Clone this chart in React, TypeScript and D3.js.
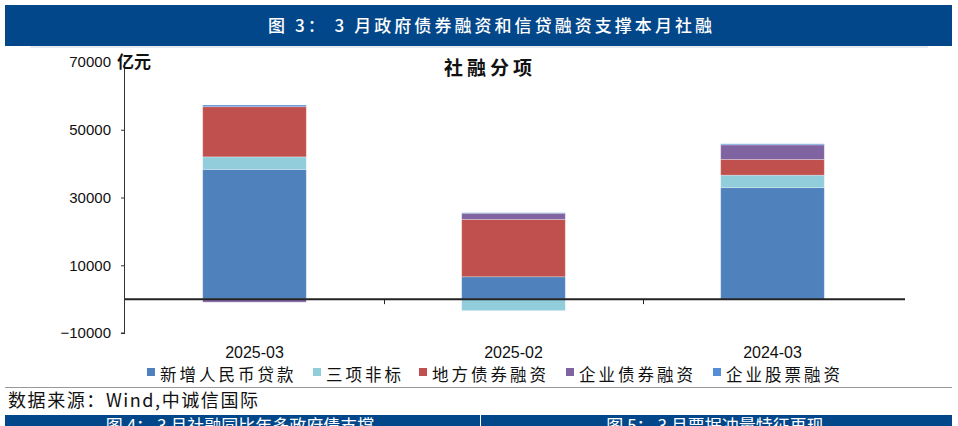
import React, { useRef, useEffect } from "react";
import * as d3 from "d3";

const categories = ["2025-03", "2025-02", "2024-03"];
const seriesNames = ["新增人民币贷款", "三项非标", "地方债券融资", "企业债券融资", "企业股票融资"];
const loans = [38300, 6600, 32900];
const nonStandard = [3700, -3400, 3700];
const localBonds = [14800, 16950, 4650];
const corpBonds = [-900, 1800, 4300];
const equity = [500, 150, 300];
const yTicks = [70000, 50000, 30000, 10000, -10000];
const colors = ["#4F81BD", "#92CDDC", "#C0504D", "#8064A2", "#558ED5"];

const W = 958;
const H = 426;
const CJK = "'Noto Sans CJK SC', sans-serif";

export default function App() {
  const svgRef = useRef<SVGSVGElement>(null);

  useEffect(() => {
    const svg = d3.select(svgRef.current);
    svg.selectAll("*").remove();

    const x0 = 125, x1 = 902, yTop = 62, yBot = 333;

    // header band
    svg.append("rect").attr("x", 5).attr("y", 5).attr("width", 947).attr("height", 41).attr("fill", "#02478A");
    svg.append("text")
      .attr("x", 490).attr("y", 32).attr("text-anchor", "middle")
      .attr("font-family", CJK).attr("font-size", 17).attr("font-weight", 500)
      .attr("textLength", 444).attr("fill", "#fff")
      .text("图 3： 3 月政府债券融资和信贷融资支撑本月社融");
    svg.append("line").attr("x1", 30).attr("x2", 928).attr("y1", 47).attr("y2", 47)
      .attr("stroke", "#cfd6e0").attr("stroke-width", 1);

    // chart title
    svg.append("text")
      .attr("x", 490).attr("y", 75).attr("text-anchor", "middle")
      .attr("font-family", CJK).attr("font-size", 19).attr("font-weight", 700)
      .attr("letter-spacing", 4).attr("fill", "#111").text("社融分项");

    const x = d3.scaleBand<string>().domain(categories).range([x0, x1]).padding(0);
    const y = d3.scaleLinear().domain([-10000, 70000]).range([yBot, yTop]);
    const barW = x.bandwidth() * 0.4;

    const rows = categories.map((c, i) => ({
      cat: c,
      s0: loans[i], s1: nonStandard[i], s2: localBonds[i], s3: corpBonds[i], s4: equity[i]
    }));
    const stack = d3.stack<any>()
      .keys(["s0", "s1", "s2", "s3", "s4"])
      .offset(d3.stackOffsetDiverging);
    const layers = stack(rows);

    const g = svg.append("g");
    layers.forEach((layer, li) => {
      g.selectAll(null)
        .data(layer)
        .enter()
        .append("rect")
        .attr("x", (d: any) => (x(d.data.cat) as number) + (x.bandwidth() - barW) / 2)
        .attr("y", (d) => y(Math.max(d[0], d[1])))
        .attr("width", barW)
        .attr("height", (d) => Math.abs(y(d[0]) - y(d[1])))
        .attr("fill", colors[li])
        .attr("stroke", "rgba(255,255,255,0.35)")
        .attr("stroke-width", 0.8);
    });

    // y axis
    const ya = svg.append("g").attr("transform", `translate(${x0},0)`)
      .call(d3.axisLeft(y).tickValues(yTicks).tickSize(4).tickPadding(10).tickFormat((d) => {
        const v = d as number;
        return v < 0 ? "\u2212" + Math.abs(v) : String(v);
      }));
    ya.select(".domain").attr("stroke", "#333").attr("d", `M-0.5,${yTop}V${yBot}H-4`);
    ya.selectAll(".tick line").attr("stroke", "#333");
    ya.selectAll(".tick text")
      .attr("font-family", "'Liberation Sans', Arial, sans-serif")
      .attr("font-size", 15).attr("fill", "#111");
    ya.selectAll(".tick").filter((d) => d === 70000).select("line").remove();

    svg.append("text").attr("x", 117).attr("y", 68)
      .attr("font-family", CJK).attr("font-size", 17).attr("font-weight", 700)
      .attr("fill", "#111").text("亿元");

    // zero line with category separators
    svg.append("line").attr("x1", x0).attr("x2", x1 + 3).attr("y1", y(0)).attr("y2", y(0))
      .attr("stroke", "#222").attr("stroke-width", 2);
    [categories[1], categories[2]].forEach((c) => {
      const xs = Math.round(x(c) as number) + 0.5;
      svg.append("line").attr("x1", xs).attr("x2", xs).attr("y1", y(0)).attr("y2", y(0) + 5)
        .attr("stroke", "#222").attr("stroke-width", 1);
    });

    // category labels
    svg.selectAll(".cat").data(categories).enter().append("text")
      .attr("x", (d) => (x(d) as number) + x.bandwidth() / 2)
      .attr("y", 358).attr("text-anchor", "middle")
      .attr("font-family", "'Liberation Sans', Arial, sans-serif")
      .attr("font-size", 16).attr("fill", "#111").text((d) => d);

    // legend
    const legendX = [147, 313, 419, 566, 713];
    seriesNames.forEach((name, i) => {
      svg.append("rect").attr("x", legendX[i]).attr("y", 368).attr("width", 8).attr("height", 8)
        .attr("fill", colors[i]);
      svg.append("text").attr("x", legendX[i] + 13).attr("y", 381)
        .attr("font-family", CJK).attr("font-size", 16.5).attr("letter-spacing", 3)
        .attr("fill", "#111").text(name);
    });
    svg.append("line").attr("x1", 5).attr("x2", 952).attr("y1", 387.5).attr("y2", 387.5)
      .attr("stroke", "#999").attr("stroke-width", 1);

    // source
    svg.append("text").attr("x", 8).attr("y", 407)
      .attr("font-family", CJK).attr("font-size", 18).attr("textLength", 250)
      .attr("fill", "#111").text("数据来源：Wind,中诚信国际");

    // next figure band (cut off)
    svg.append("rect").attr("x", 5).attr("y", 415).attr("width", 947).attr("height", 20).attr("fill", "#02478A");
    svg.append("line").attr("x1", 480.5).attr("x2", 480.5).attr("y1", 415).attr("y2", 426)
      .attr("stroke", "#fff").attr("stroke-width", 1);
    svg.append("text").attr("x", 240).attr("y", 432).attr("text-anchor", "middle")
      .attr("font-family", CJK).attr("font-size", 17).attr("fill", "#fff")
      .text("图 4： 3 月社融同比年多政府债支撑");
    svg.append("text").attr("x", 715).attr("y", 432).attr("text-anchor", "middle")
      .attr("font-family", CJK).attr("font-size", 17).attr("fill", "#fff")
      .text("图 5： 3 月票据冲量特征再现");
  }, []);

  return (
    <svg
      ref={svgRef}
      width={W}
      height={H}
      style={{ position: "absolute", left: 0, top: 0, background: "#fff" }}
    />
  );
}
